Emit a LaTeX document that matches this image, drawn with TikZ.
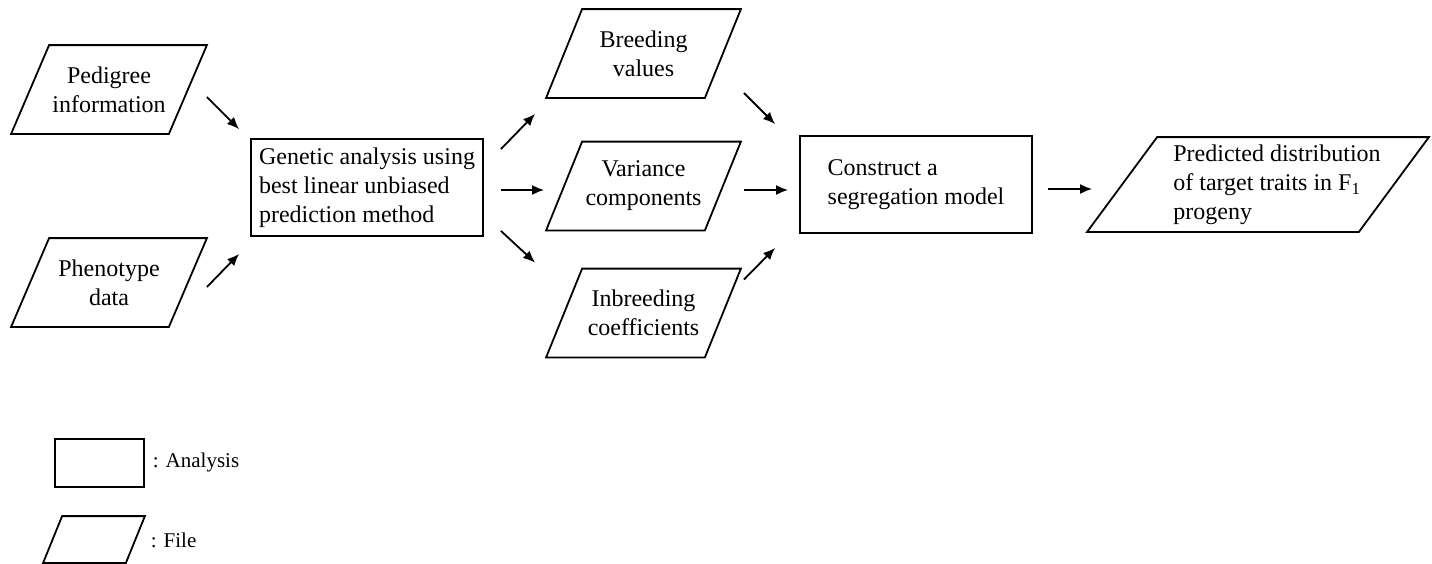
\documentclass[tikz,border=0pt]{standalone}
\usepackage{fontspec}
\setmainfont{Liberation Serif}
\usetikzlibrary{calc,arrows.meta}
\tikzset{
    analysis/.style={draw, minimum width=232pt, minimum height=97pt, align=left, inner sep=0pt},
    file/.style={minimum width=193pt, minimum height=87pt, align=center, inner sep=0pt},
    flow/.style={-{Latex[length=12pt,width=10pt]}, line width=1.8pt}
}
\newcommand
    {\stepfont}
    {%
        \fontsize{24pt}{29pt}\selectfont%
    }

\begin{document}
\begin{tikzpicture}[x=1pt, y=-1pt, line width=1.8pt, font=\stepfont]
        \useasboundingbox (0,0) rectangle (1432,563);

        % 1. Input files
        \node (ped) at (109,89.5) [file, minimum width=194pt] {Pedigree\\information};
        \node (phe) at (109,282.5) [file, minimum width=194pt] {Phenotype\\data};

        % 2. BLUP analysis
        \node (gen) at (367,187.5) [analysis] {Genetic analysis using\\best linear unbiased\\prediction method};

        % 3. Output files of the analysis
        \node (brd) at (643.5,53.5) [file] {Breeding\\values};
        \node (var) at (643.5,186) [file] {Variance\\components};
        \node (inb) at (643.5,313) [file] {Inbreeding\\coefficients};

        % 4. Segregation model and prediction
        \node (con) at (916,184.5) [analysis] {Construct a\\segregation model};
        \node (pred) at (1258,184.5) [file, minimum width=340pt, minimum height=93pt]
            {\begin{tabular}{@{\hspace{38pt}}l@{}}Predicted distribution\\of target traits in F\textsubscript{1}\\progeny\end{tabular}};

        % 5. Legend
        \node (lega) at (99.5,463) [analysis, minimum width=89pt, minimum height=48pt] {};
        \node (legf) at (94,539.5) [file, minimum width=100pt, minimum height=45pt] {};
        \node (txta) at (152,462) [anchor=west, inner sep=0pt, font=\fontsize{21pt}{25pt}\selectfont] {: Analysis};
        \node (txtf) at (150,540) [anchor=west, inner sep=0pt, font=\fontsize{21pt}{25pt}\selectfont] {: File};

        % Parallelogram outlines of the file nodes
        \foreach \n/\s in {ped/38, phe/38, brd/36, var/36, inb/36, pred/70, legf/19}
            \draw (\n.south west) -- ([xshift=\s pt]\n.north west) -- (\n.north east)
                -- ([xshift=-\s pt]\n.south east) -- cycle;

        % 6. Arrows
        \draw[flow] ([yshift=-7.5pt]ped.east) -- ([shift={(-11pt,9pt)}]gen.north west);
        \draw[flow] ([yshift=-4.5pt]phe.east) -- ([shift={(-11pt,-17pt)}]gen.south west);

        \draw[flow] ([shift={(17pt,-11pt)}]gen.north east) -- ([shift={(-11pt,-16pt)}]brd.south west);
        \draw[flow] ([shift={(17pt,-2.5pt)}]gen.east) -- ([shift={(-2pt,-2.5pt)}]gen.east -| var.west);
        \draw[flow] ([shift={(17pt,6pt)}]gen.south east) -- ([shift={(-11pt,6pt)}]inb.north west);

        \draw[flow] ([shift={(3pt,5pt)}]brd.south east) -- ([shift={(-24pt,11pt)}]con.north west);
        \draw[flow] ([shift={(3pt,-4pt)}]var.east) -- ([shift={(-11pt,-4pt)}]var.east -| con.west);
        \draw[flow] ([shift={(3pt,-11pt)}]inb.north east) -- ([shift={(-24pt,-14pt)}]con.south west);

        \draw[flow] ([shift={(15pt,-4.5pt)}]con.east) -- ([shift={(5pt,-4.5pt)}]pred.west);
    \end{tikzpicture}
\end{document}
